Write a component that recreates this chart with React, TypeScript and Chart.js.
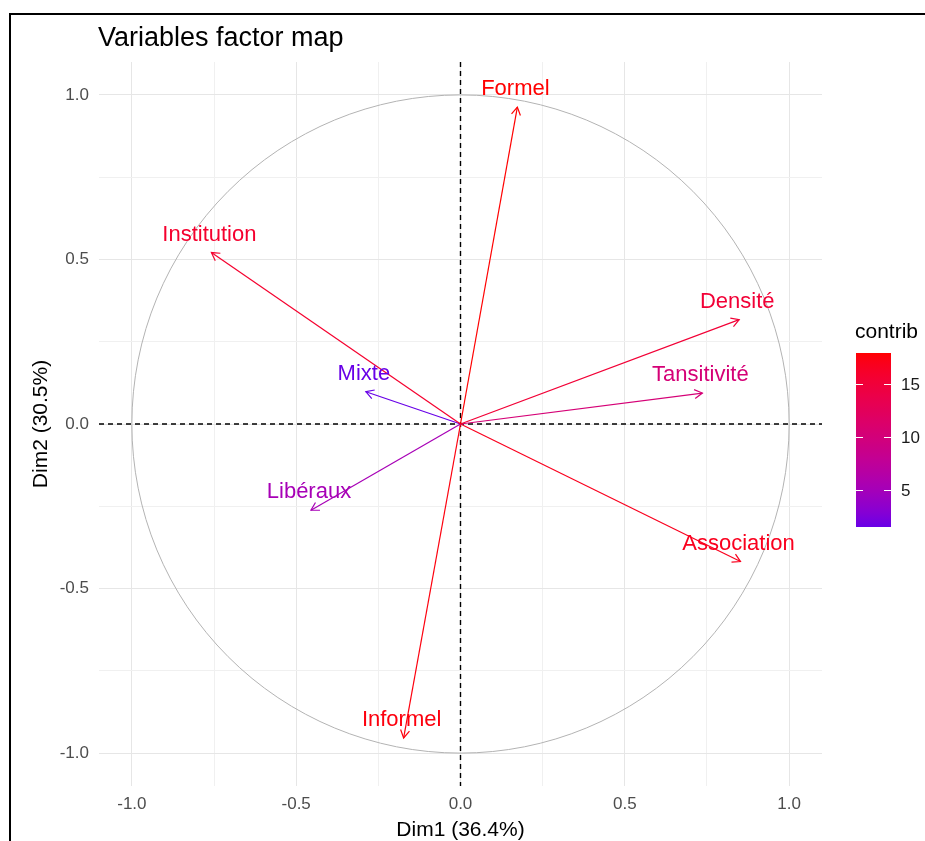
import React, { useEffect, useRef } from "react";
import { Chart, registerables } from "chart.js";
Chart.register(...registerables);

// ---- data ----
const variables = ["Formel", "Institution", "Densité", "Tansitivité", "Mixte", "Libéraux", "Association", "Informel"];
const dim1 = [0.173, -0.758, 0.848, 0.736, -0.288, -0.455, 0.852, -0.173];
const dim2 = [0.963, 0.521, 0.317, 0.094, 0.098, -0.262, -0.418, -0.954];
const contrib = [17.9, 15.8, 15.3, 10.3, 1.5, 5.2, 16.8, 17.5];
const axisTicks = [-1, -0.5, 0, 0.5, 1];
const gridTicks = [-1, -0.75, -0.5, -0.25, 0, 0.25, 0.5, 0.75, 1];
const legendTicks = [5, 10, 15];
const titleText = "Variables factor map";
const xTitle = "Dim1 (36.4%)";
const yTitle = "Dim2 (30.5%)";
const legendTitle = "contrib";

// ---- colour gradient (Lab interpolation, blue-violet -> red) ----
function lin(c: number) { c /= 255; return c <= 0.04045 ? c / 12.92 : Math.pow((c + 0.055) / 1.055, 2.4); }
function f(t: number) { return t > 0.008856 ? Math.cbrt(t) : 7.787 * t + 16 / 116; }
function toLab(rgb: number[]) {
  const [r, g, b] = rgb.map(lin);
  const X = (0.4124 * r + 0.3576 * g + 0.1805 * b) / 0.95047;
  const Y = 0.2126 * r + 0.7152 * g + 0.0722 * b;
  const Z = (0.0193 * r + 0.1192 * g + 0.9505 * b) / 1.08883;
  const fx = f(X), fy = f(Y), fz = f(Z);
  return [116 * fy - 16, 500 * (fx - fy), 200 * (fy - fz)];
}
function finv(t: number) { const t3 = t * t * t; return t3 > 0.008856 ? t3 : (t - 16 / 116) / 7.787; }
function gam(c: number) { const v = c <= 0.0031308 ? 12.92 * c : 1.055 * Math.pow(c, 1 / 2.4) - 0.055; return Math.round(Math.min(1, Math.max(0, v)) * 255); }
function fromLab([L, a, b]: number[]) {
  const fy = (L + 16) / 116, fx = fy + a / 500, fz = fy - b / 200;
  const X = finv(fx) * 0.95047, Y = finv(fy), Z = finv(fz) * 1.08883;
  const r = 3.2406 * X - 1.5372 * Y - 0.4986 * Z;
  const g = -0.9689 * X + 1.8758 * Y + 0.0415 * Z;
  const bb = 0.0557 * X - 0.204 * Y + 1.057 * Z;
  return `rgb(${gam(r)},${gam(g)},${gam(bb)})`;
}
const LOW = toLab([0, 0, 255]);
const HIGH = toLab([255, 0, 0]);
function gradColor(t: number) {
  const tt = 0.1 + 0.9 * t;
  return fromLab([0, 1, 2].map((i) => LOW[i] + (HIGH[i] - LOW[i]) * tt));
}

const FONT = "'Liberation Sans', Arial, Helvetica, sans-serif";
const isMajor = (v: number) => Math.abs(v * 2 - Math.round(v * 2)) < 1e-9;

export default function App() {
  const ref = useRef<HTMLCanvasElement>(null);
  useEffect(() => {
    const canvas = ref.current!;
    const cmin = Math.min(...contrib);
    const cmax = Math.max(...contrib);
    const tOf = (c: number) => (c - cmin) / (cmax - cmin);
    const colors = contrib.map((c) => gradColor(tOf(c)));

    const plugin = {
      id: "pcaDecor",
      beforeDatasetsDraw(chart: any) {
        const { ctx, chartArea: a, scales } = chart;
        const x = scales.x, y = scales.y;
        const x0 = x.getPixelForValue(0), y0 = y.getPixelForValue(0);
        const rx = x.getPixelForValue(1) - x0, ry = y0 - y.getPixelForValue(1);
        ctx.save();
        ctx.strokeStyle = "#b3b3b3";
        ctx.lineWidth = 1;
        ctx.beginPath();
        ctx.ellipse(x0, y0, rx, ry, 0, 0, Math.PI * 2);
        ctx.stroke();
        ctx.strokeStyle = "#000";
        ctx.lineWidth = 1.4;
        ctx.setLineDash([5, 4]);
        ctx.beginPath();
        ctx.moveTo(a.left, y0); ctx.lineTo(a.right, y0);
        ctx.moveTo(x0, a.top); ctx.lineTo(x0, a.bottom);
        ctx.stroke();
        ctx.restore();
      },
      afterDatasetsDraw(chart: any) {
        const { ctx } = chart;
        ctx.save();
        variables.forEach((name, i) => {
          const meta = chart.getDatasetMeta(i);
          const p0 = meta.data[0], p1 = meta.data[1];
          const ang = Math.atan2(p1.y - p0.y, p1.x - p0.x);
          const L = 9, A = Math.PI / 6;
          ctx.strokeStyle = colors[i];
          ctx.lineWidth = 1.2;
          ctx.beginPath();
          ctx.moveTo(p1.x - L * Math.cos(ang - A), p1.y - L * Math.sin(ang - A));
          ctx.lineTo(p1.x, p1.y);
          ctx.lineTo(p1.x - L * Math.cos(ang + A), p1.y - L * Math.sin(ang + A));
          ctx.stroke();
          ctx.fillStyle = colors[i];
          ctx.font = `22px ${FONT}`;
          ctx.textAlign = "center";
          ctx.textBaseline = "alphabetic";
          ctx.fillText(name, p1.x - 2, p1.y - 12);
        });
        ctx.restore();
      },
      afterDraw(chart: any) {
        const { ctx, chartArea: a } = chart;
        ctx.save();
        // title
        ctx.fillStyle = "#000";
        ctx.font = `27px ${FONT}`;
        ctx.textAlign = "left";
        ctx.textBaseline = "alphabetic";
        ctx.fillText(titleText, a.left - 1, 46);
        // axis titles
        ctx.font = `21px ${FONT}`;
        ctx.textAlign = "center";
        ctx.fillText(xTitle, (a.left + a.right) / 2, 836);
        ctx.save();
        ctx.translate(47, (a.top + a.bottom) / 2);
        ctx.rotate(-Math.PI / 2);
        ctx.fillText(yTitle, 0, 0);
        ctx.restore();
        // legend
        const bx = 856, bw = 35, btop = 353, bbot = 527;
        const yOf = (c: number) => bbot - tOf(c) * (bbot - btop);
        ctx.textAlign = "left";
        ctx.font = `21px ${FONT}`;
        ctx.fillText(legendTitle, 855, 338);
        const g = ctx.createLinearGradient(0, bbot, 0, btop);
        for (let k = 0; k <= 40; k++) g.addColorStop(k / 40, gradColor(k / 40));
        ctx.fillStyle = g;
        ctx.fillRect(bx, btop, bw, bbot - btop);
        ctx.strokeStyle = "#fff";
        ctx.lineWidth = 1;
        ctx.font = `17px ${FONT}`;
        ctx.textBaseline = "middle";
        legendTicks.forEach((v) => {
          const ty = Math.round(yOf(v)) + 0.5;
          ctx.beginPath();
          ctx.moveTo(bx, ty); ctx.lineTo(bx + 7, ty);
          ctx.moveTo(bx + bw - 7, ty); ctx.lineTo(bx + bw, ty);
          ctx.stroke();
          ctx.fillStyle = "#1a1a1a";
          ctx.fillText(String(v), 901, ty + 1);
        });
        // frame
        ctx.strokeStyle = "#000";
        ctx.lineWidth = 2;
        ctx.beginPath();
        ctx.moveTo(10, 841); ctx.lineTo(10, 14); ctx.lineTo(925, 14);
        ctx.stroke();
        ctx.restore();
      },
    };

    const scaleCommon = (axisWidthProp: "width" | "height", size: number) => ({
      type: "linear" as const,
      min: -1.1,
      max: 1.1,
      afterBuildTicks: (scale: any) => { scale.ticks = gridTicks.map((v) => ({ value: v })); },
      afterFit: (scale: any) => { scale[axisWidthProp] = size; },
      grid: {
        color: (c: any) => (c.tick && isMajor(c.tick.value) ? "#e6e6e6" : "#f0f0f0"),
        lineWidth: 1,
        drawTicks: false,
      },
      border: { display: false },
      ticks: {
        autoSkip: false,
        maxRotation: 0,
        minRotation: 0,
        color: "#4d4d4d",
        font: { size: 17, family: FONT },
        callback: (v: any) => (axisTicks.some((t) => Math.abs(t - v) < 1e-9) ? Number(v).toFixed(1) : ""),
      },
    });

    const xs: any = scaleCommon("height", 55);
    xs.ticks.padding = 8;
    const ys: any = scaleCommon("width", 79);
    ys.ticks.padding = 10;

    const chart = new Chart(canvas, {
      type: "scatter",
      data: {
        datasets: variables.map((name, i) => ({
          label: name,
          data: [{ x: 0, y: 0 }, { x: dim1[i], y: dim2[i] }],
          showLine: true,
          borderColor: colors[i],
          backgroundColor: colors[i],
          borderWidth: 1.2,
          pointRadius: 0,
          pointHoverRadius: 0,
        })),
      },
      options: {
        responsive: false,
        animation: false,
        devicePixelRatio: 1,
        layout: { padding: { left: 20, right: 103, top: 62, bottom: 0 } },
        plugins: { legend: { display: false }, tooltip: { enabled: false }, title: { display: false } },
        scales: { x: xs, y: ys },
      },
      plugins: [plugin],
    });
    return () => chart.destroy();
  }, []);

  return (
    <canvas
      ref={ref}
      width={925}
      height={841}
      style={{ position: "fixed", left: 0, top: 0, display: "block" }}
    />
  );
}
